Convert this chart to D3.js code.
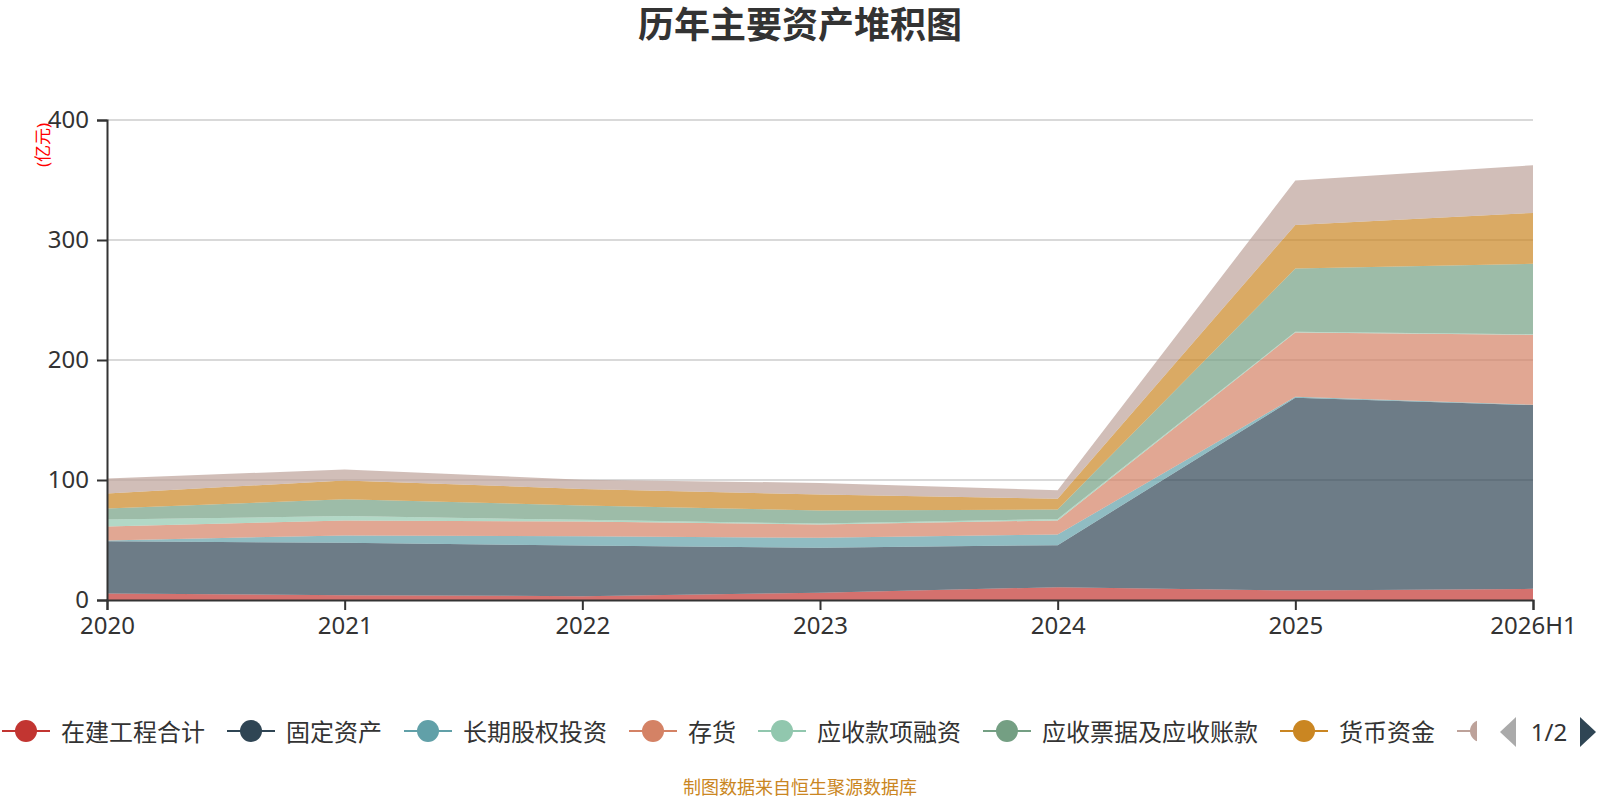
<!DOCTYPE html>
<html>
<head>
<meta charset="utf-8">
<script src="https://cdn.jsdelivr.net/npm/d3@7"></script>
<style>
  body { margin: 0; background: #fff; }
  svg text { font-family: "Noto Sans", "Noto Sans CJK SC", sans-serif; }
</style>
</head>
<body>
<div id="chart"></div>
<script>
// categories and series (亿元)
const years = ["2020", "2021", "2022", "2023", "2024", "2025", "2026H1"];
const seriesNames = ["在建工程合计", "固定资产", "长期股权投资", "存货", "应收款项融资", "应收票据及应收账款", "货币资金", "交易性金融资产"];
const colors = ["#c23531", "#2f4554", "#61a0a8", "#d48265", "#91c7ae", "#749f83", "#ca8622", "#bda29a"];

const zaijian = [5.4, 4.0, 3.2, 6.0, 10.7, 7.9, 9.3];
const guding = [43.6, 43.7, 42.2, 37.5, 35.0, 160.6, 153.1];
const changqi = [0.6, 6.1, 7.8, 8.3, 8.9, 0.8, 0.3];
const cunhuo = [11.6, 12.5, 12.2, 11.1, 11.7, 53.6, 58.3];
const yingshouRongzi = [5.8, 3.6, 1.4, 0.8, 1.3, 0.6, 0.5];
const yingshouZhangkuan = [9.2, 14.1, 11.9, 10.9, 7.8, 52.7, 58.7];
const huobi = [12.5, 15.6, 13.9, 13.3, 8.9, 36.4, 42.4];
const jiaoyi = [12.5, 9.2, 7.6, 9.7, 7.2, 37.0, 39.7];
const seriesValues = [zaijian, guding, changqi, cunhuo, yingshouRongzi, yingshouZhangkuan, huobi, jiaoyi];

const yTicks = [0, 100, 200, 300, 400];

const width = 1600, height = 800;
const margin = { left: 107, right: 67, top: 120, bottom: 200 };

const svg = d3.select("#chart").append("svg")
    .attr("width", width)
    .attr("height", height);

// table for the stack
const table = years.map((yr, i) => {
    const row = { year: yr };
    seriesNames.forEach((n, k) => row[n] = seriesValues[k][i]);
    return row;
});
const stacked = d3.stack().keys(seriesNames)(table);

const x = d3.scalePoint().domain(years).range([margin.left, width - margin.right]);
const y = d3.scaleLinear().domain([0, 400]).range([height - margin.bottom, margin.top]);

// title
svg.append("text")
    .attr("x", 800).attr("y", 38)
    .attr("text-anchor", "middle")
    .attr("font-size", 36).attr("font-weight", "bold")
    .attr("fill", "#333")
    .text("历年主要资产堆积图");

// grid lines
svg.append("g")
    .selectAll("line")
    .data(yTicks.filter(d => d > 0))
    .join("line")
    .attr("x1", x.range()[0]).attr("x2", x.range()[1])
    .attr("y1", d => y(d)).attr("y2", d => y(d))
    .attr("stroke", "#ccc").attr("stroke-width", 1.5);

// stacked areas
const area = d3.area()
    .x(d => x(d.data.year))
    .y0(d => y(d[0]))
    .y1(d => y(d[1]));

svg.append("g")
    .selectAll("path")
    .data(stacked)
    .join("path")
    .attr("d", area)
    .attr("fill", (d, i) => colors[i])
    .attr("fill-opacity", 0.7);

// y axis
const yAxis = svg.append("g")
    .attr("transform", `translate(${margin.left},0)`)
    .call(d3.axisLeft(y).tickValues(yTicks).tickSize(10).tickPadding(8));
yAxis.select(".domain").attr("stroke", "#333").attr("stroke-width", 2);
yAxis.selectAll(".tick line").attr("stroke", "#333").attr("stroke-width", 2);
yAxis.selectAll(".tick text").attr("font-size", 24).attr("fill", "#333")
    .attr("font-family", "\"Noto Sans\", sans-serif");

// x axis
const xAxis = svg.append("g")
    .attr("transform", `translate(0,${height - margin.bottom})`)
    .call(d3.axisBottom(x).tickSize(10).tickPadding(7));
xAxis.select(".domain").attr("stroke", "#333").attr("stroke-width", 2);
xAxis.selectAll(".tick line").attr("stroke", "#333").attr("stroke-width", 2);
xAxis.selectAll(".tick text").attr("font-size", 24).attr("fill", "#333")
    .attr("font-family", "\"Noto Sans\", sans-serif");

// y axis unit
svg.append("text")
    .attr("transform", "translate(49,145) rotate(-90)")
    .attr("text-anchor", "middle")
    .attr("font-size", 17)
    .attr("fill", "red")
    .text("(亿元)");

// legend (page 1 of 2, last item cut off by the pager)
svg.append("clipPath").attr("id", "legend-clip")
    .append("rect").attr("x", 0).attr("y", 700).attr("width", 1477).attr("height", 60);

const legend = svg.append("g").attr("clip-path", "url(#legend-clip)");
const legendY = 731;
const legendLast = seriesNames.length - 1;
let lx = 2;
seriesNames.forEach((name, i) => {
    const item = legend.append("g").attr("transform", `translate(${lx},${legendY})`);
    item.append("line")
        .attr("x1", 0).attr("x2", 48).attr("y1", 0).attr("y2", 0)
        .attr("stroke", colors[i]).attr("stroke-width", 2);
    item.append("circle")
        .attr("cx", 24).attr("cy", 0).attr("r", 11)
        .attr("fill", colors[i]);
    if (i === legendLast) return; // its label falls outside the visible page
    const t = item.append("text")
        .attr("x", 59).attr("y", 0)
        .attr("dominant-baseline", "central")
        .attr("font-size", 24).attr("fill", "#333")
        .text(name);
    lx += 59 + t.node().getComputedTextLength() + 22;
});

// legend pager
svg.append("path")
    .attr("d", "M1516,717 L1516,747 L1500,732 Z")
    .attr("fill", "#aaa");
svg.append("text")
    .attr("x", 1549).attr("y", legendY)
    .attr("text-anchor", "middle").attr("dominant-baseline", "central")
    .attr("font-size", 24).attr("fill", "#333")
    .text("1/2");
svg.append("path")
    .attr("d", "M1580,717 L1580,747 L1596,732 Z")
    .attr("fill", "#2f4554");

// source note
svg.append("text")
    .attr("x", 800).attr("y", 794)
    .attr("text-anchor", "middle")
    .attr("font-size", 18)
    .attr("fill", "#ca8622")
    .text("制图数据来自恒生聚源数据库");
</script>
</body>
</html>
